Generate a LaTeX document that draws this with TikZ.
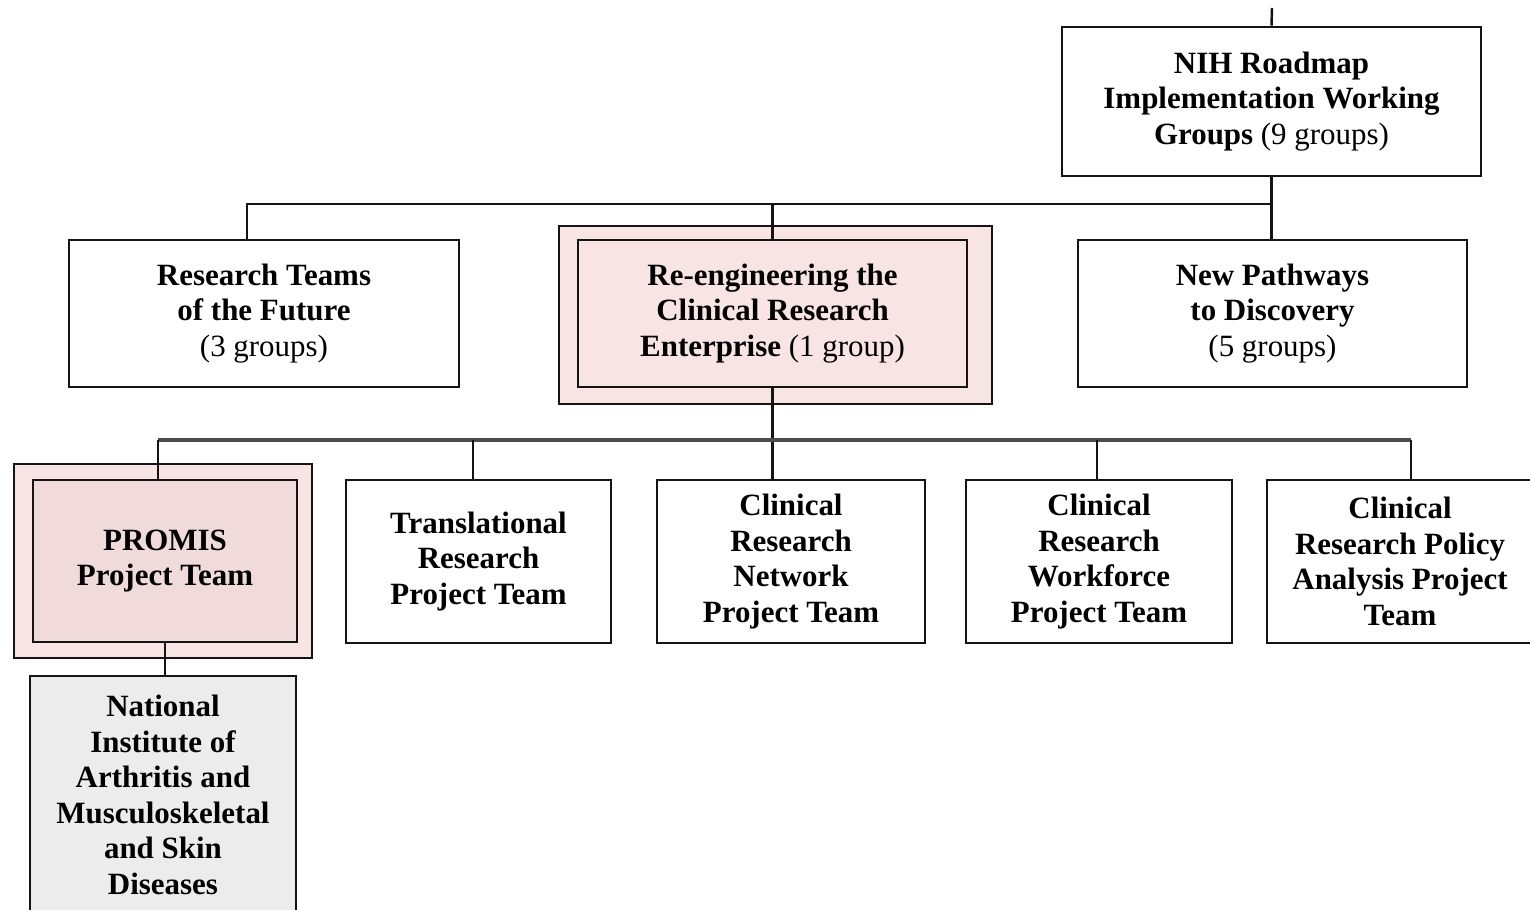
\documentclass[tikz,border=0pt]{standalone}
\usepackage{fontspec}
\setmainfont{Liberation Serif}
\usetikzlibrary{calc}
\definecolor{rosa}{RGB}{249,228,228}
\definecolor{rosadark}{RGB}{240,218,218}
\definecolor{grau}{RGB}{236,236,236}
\definecolor{linie}{RGB}{20,20,20}

\begin{document}
\begin{tikzpicture}[x=0.01cm, y=-0.01cm,
    box/.style={draw=linie, line width=0.75pt, align=center, inner sep=0pt,
        font=\fontsize{8.8}{10.1}\selectfont\bfseries},
    outer/.style={draw=linie, line width=0.75pt, fill=rosa, inner sep=0pt},
    conn/.style={draw=linie, line width=0.7pt},
    bus/.style={draw=black!70, line width=1.1pt}]

    \useasboundingbox (0,0) rectangle (1530,910);

    % highlighted frames
    \node[outer, minimum width=4.33cm, minimum height=1.78cm] (reouter) at (775.5,315) {};
    \node[outer, minimum width=2.98cm, minimum height=1.94cm] (promisouter) at (163,561) {};

    \node[box, minimum width=4.19cm, minimum height=1.49cm] (nih) at (1271.5,101.5)
        {NIH Roadmap\\Implementation Working\\Groups {\mdseries(9 groups)}};

    \node[box, minimum width=3.90cm, minimum height=1.47cm] (rtf) at (264,313.5)
        {Research Teams\\of the Future\\{\mdseries(3 groups)}};
    \node[box, fill=rosa, minimum width=3.89cm, minimum height=1.47cm] (reinner) at (772.5,313.5)
        {Re-engineering the\\Clinical Research\\Enterprise {\mdseries(1 group)}};
    \node[box, minimum width=3.89cm, minimum height=1.47cm] (npd) at (1272.5,313.5)
        {New Pathways\\to Discovery\\{\mdseries(5 groups)}};

    \node[box, fill=rosadark, minimum width=2.64cm, minimum height=1.62cm] (promis) at (165,561)
        {PROMIS\\Project Team};
    \node[box, minimum width=2.65cm, minimum height=1.63cm] (trp) at (478.5,561.5)
        {Translational\\Research\\Project Team};
    \node[box, minimum width=2.68cm, minimum height=1.63cm] (crn) at (791,561.5)
        {Clinical\\Research\\Network\\Project Team};
    \node[box, minimum width=2.66cm, minimum height=1.63cm] (crw) at (1099,561.5)
        {Clinical\\Research\\Workforce\\Project Team};
    \node[box, minimum width=2.66cm, minimum height=1.63cm] (crpa) at (1400,561.5)
        {Clinical\\Research Policy\\Analysis Project\\Team};

    \node[box, fill=grau, minimum width=2.66cm, minimum height=2.38cm] (niams) at (163,795)
        {National\\Institute of\\Arthritis and\\Musculoskeletal\\and Skin\\Diseases};

    % connectors
    \coordinate (topend) at (1272,8);
    \coordinate (busA) at (0,204);
    \coordinate (busB) at (0,440);

    \draw[conn] (topend) -- (nih.north);
    \draw[conn] (nih.south) -- (nih.south |- npd.north);
    \draw[conn] (rtf.north) ++(-17,0) coordinate (rtfdrop) -- (rtfdrop |- busA) -- (nih.south |- busA);
    \draw[conn] (reinner.north) -- (reinner.north |- busA);

    \draw[conn] (reinner.south) -- (reinner.south |- crn.north);
    \draw[bus] (promis.north) ++(-7,0) coordinate (pdrop) (pdrop |- busB) -- ++(1253,0);
    \foreach \n/\dx in {promis/-7, trp/-5.5, crw/-2, crpa/11}
        \draw[conn] (\n.north) ++(\dx,0) coordinate (d) -- (d |- busB);

    \draw[conn] (promis.south) -- (promis.south |- niams.north);

\end{tikzpicture}
\end{document}
